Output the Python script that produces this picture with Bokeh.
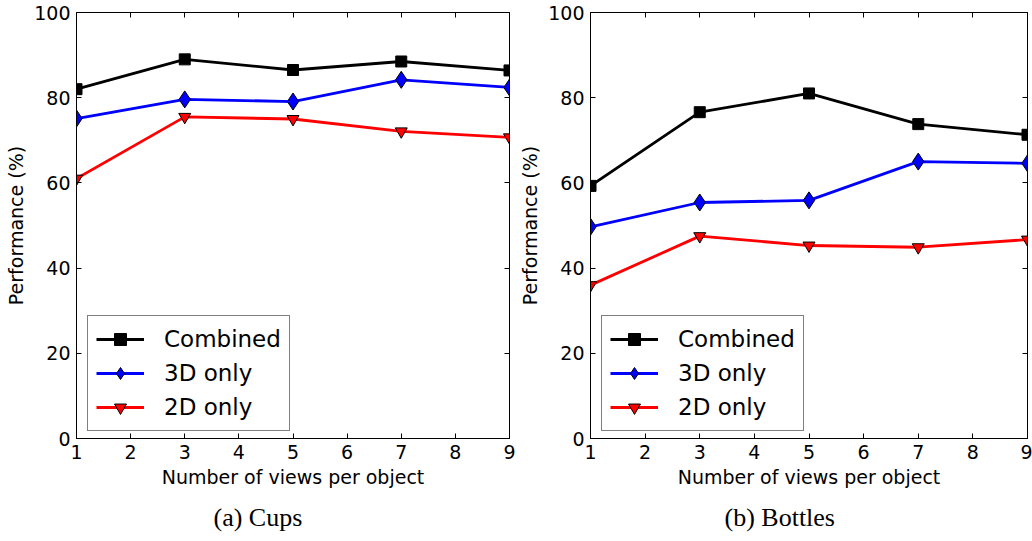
from bokeh.plotting import figure
from bokeh.layouts import row
from bokeh.models import (Range1d, FixedTicker, LinearAxis, Legend, LegendItem,
                          Title, CustomJSTickFormatter)
from bokeh.embed import file_html
from bokeh.resources import INLINE

views = [1, 3, 5, 7, 9]
cups_combined = [82.0, 89.0, 86.5, 88.5, 86.4]
cups_3d = [75.1, 79.6, 79.1, 84.2, 82.4]
cups_2d = [61.0, 75.5, 75.0, 72.1, 70.7]
bottles_combined = [59.3, 76.6, 81.0, 73.8, 71.3]
bottles_3d = [49.7, 55.4, 55.9, 65.0, 64.6]
bottles_2d = [36.0, 47.5, 45.3, 44.9, 46.7]
series_labels = ["Combined", "3D only", "2D only"]
x_ticks = [1, 2, 3, 4, 5, 6, 7, 8, 9]
y_ticks = [0, 20, 40, 60, 80, 100]
x_label = "Number of views per object"
y_label = "Performance (%)"
captions = ["(a) Cups", "(b) Bottles"]

FONT = "DejaVu Sans"
colors = ["#000000", "#0000ff", "#ff0000"]
markers = ["square", "diamond", "inverted_triangle"]
msizes = [11, 17, 12]


def style_axis(ax, labels=True):
    ax.axis_line_color = "black"
    ax.axis_line_width = 1
    ax.major_tick_in = 5
    ax.major_tick_out = 0
    ax.minor_tick_line_color = None
    ax.major_tick_line_color = "black"
    ax.major_label_text_font = FONT
    ax.major_label_text_font_size = "19px"
    ax.major_label_text_color = "black"
    ax.axis_label_text_font = FONT
    ax.axis_label_text_font_size = "19px"
    ax.axis_label_text_font_style = "normal"
    ax.axis_label_text_color = "black"
    if not labels:
        ax.formatter = CustomJSTickFormatter(code="return ''")
        ax.major_label_standoff = 0


def make(series, caption, width, bl, br, cap_offset):
    p = figure(width=width, height=541, x_range=Range1d(1, 9), y_range=Range1d(0, 100),
               output_backend="svg", toolbar_location=None,
               min_border_left=bl, min_border_right=br, min_border_top=12,
               min_border_bottom=101)
    p.xgrid.visible = False
    p.ygrid.visible = False
    p.outline_line_color = "black"
    p.background_fill_color = "white"
    p.border_fill_color = "white"
    p.xaxis.ticker = FixedTicker(ticks=x_ticks)
    p.yaxis.ticker = FixedTicker(ticks=y_ticks)
    p.xaxis.axis_label = x_label
    p.yaxis.axis_label = y_label
    style_axis(p.xaxis[0])
    style_axis(p.yaxis[0])
    p.xaxis.major_label_standoff = 6
    p.yaxis.major_label_standoff = 6
    p.xaxis.axis_label_standoff = 4
    p.yaxis.axis_label_standoff = 4

    top = LinearAxis(ticker=FixedTicker(ticks=x_ticks))
    style_axis(top, labels=False)
    p.add_layout(top, "above")
    right = LinearAxis(ticker=FixedTicker(ticks=y_ticks))
    style_axis(right, labels=False)
    p.add_layout(right, "right")

    items = []
    for vals, lab, c, m, s in zip(series, series_labels, colors, markers, msizes):
        lr = p.line(views, vals, line_color=c, line_width=2.8)
        sr = p.scatter(views, vals, marker=m, size=s, fill_color=c,
                       line_color="black", line_width=1)
        items.append(LegendItem(label=lab, renderers=[lr, sr]))

    leg = Legend(items=items, location=(11, 7), margin=0, padding=8, spacing=4,
                 label_height=30, glyph_height=30, glyph_width=48, label_standoff=20,
                 label_text_font=FONT, label_text_font_size="23px",
                 label_text_color="black", border_line_color="black",
                 border_line_width=1, background_fill_alpha=1.0)
    p.add_layout(leg, "center")

    t = Title(text=caption, align="left", text_font="Liberation Serif",
              text_font_size="26px", text_font_style="normal", text_color="black",
              offset=cap_offset, standoff=20)
    p.add_layout(t, "below")
    return p


p1 = make([cups_combined, cups_3d, cups_2d], captions[0], 516, 76, 7, 137)
p2 = make([bottles_combined, bottles_3d, bottles_2d], captions[1], 516, 73, 5, 134)
layout = row(p1, p2)

open("out.html", "w").write(file_html(layout, INLINE))
